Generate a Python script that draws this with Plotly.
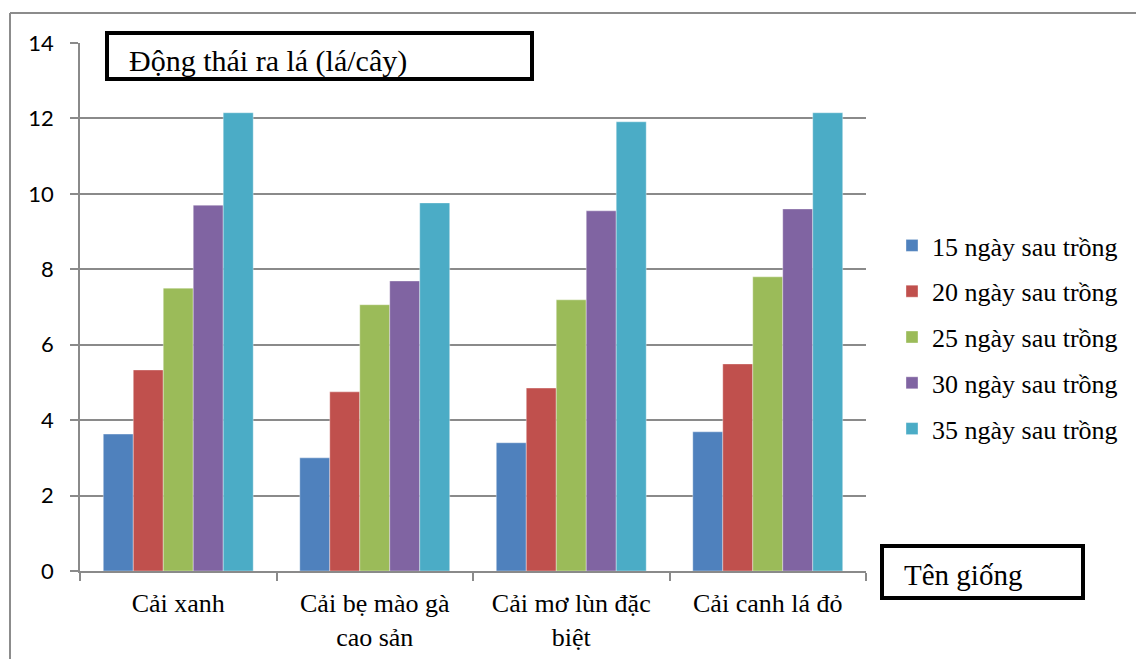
import plotly.graph_objects as go

# Data: leaf count (leaves/plant) per variety at each sampling date
categories = ["Cải xanh", "Cải bẹ mào gà<br>cao sản", "Cải mơ lùn đặc<br>biệt", "Cải canh lá đỏ"]
series_names = ["15 ngày sau trồng", "20 ngày sau trồng", "25 ngày sau trồng",
                "30 ngày sau trồng", "35 ngày sau trồng"]
d15 = [3.63, 3.00, 3.40, 3.69]
d20 = [5.33, 4.75, 4.85, 5.49]
d25 = [7.50, 7.06, 7.19, 7.80]
d30 = [9.70, 7.69, 9.55, 9.60]
d35 = [12.15, 9.76, 11.91, 12.15]
series_values = [d15, d20, d25, d30, d35]
y_ticks = [0, 2, 4, 6, 8, 10, 12, 14]

colors = ["#4F81BD", "#C0504D", "#9BBB59", "#8064A2", "#4BACC6"]

W, H = 1136, 659
L, R, T, B = 80, 866, 43, 571  # plot area in pixels


def px_x(x):
    return (x - L) / (R - L)


def px_y(y):
    return (B - y) / (B - T)


fig = go.Figure()
for name, vals, col in zip(series_names, series_values, colors):
    fig.add_trace(go.Bar(
        x=categories, y=vals, name=name, legendgroup=name,
        marker=dict(color=col, line=dict(color="rgba(255,255,255,0.6)", width=0.6)),
    ))

grid = "#8a8a8a"
serif = "Liberation Serif"

fig.update_layout(
    width=W, height=H,
    margin=dict(l=L, r=W - R, t=T, b=H - B, pad=0, autoexpand=False),
    paper_bgcolor="white", plot_bgcolor="white",
    barmode="group", bargap=0.237, bargroupgap=0,
    showlegend=True,
    legend=dict(
        x=px_x(892), y=px_y(222), xanchor="left", yanchor="top",
        font=dict(family=serif, size=26, color="#000"),
        tracegroupgap=9, bgcolor="rgba(0,0,0,0)",
    ),
    xaxis=dict(
        type="category", automargin=False, showline=True, linecolor=grid, linewidth=1.5,
        ticks="outside", tickson="boundaries", ticklen=8, tickcolor=grid, tickwidth=1.5,
        showgrid=False, tickfont=dict(family=serif, size=26, color="#000"),
        ticklabelstandoff=8,
    ),
    yaxis=dict(
        range=[0, 14], tickvals=y_ticks, automargin=False, showline=True,
        linecolor=grid, linewidth=1.5,
        ticks="outside", ticklen=8, tickcolor=grid, tickwidth=1.5,
        showgrid=True, gridcolor=grid, gridwidth=1.5, zeroline=False,
        tickfont=dict(family="Lato", size=22, color="#000"), ticklabelstandoff=12,
    ),
)

# outer chart frame (top and left edges visible)
fig.add_shape(type="line", xref="paper", yref="paper",
              x0=px_x(10), x1=px_x(1140), y0=px_y(13), y1=px_y(13),
              line=dict(color="#8c8c8c", width=2))
fig.add_shape(type="line", xref="paper", yref="paper",
              x0=px_x(10), x1=px_x(10), y0=px_y(13), y1=px_y(665),
              line=dict(color="#8c8c8c", width=2))

# y-axis title box
fig.add_shape(type="rect", xref="paper", yref="paper",
              x0=px_x(107), x1=px_x(532), y0=px_y(33), y1=px_y(79),
              line=dict(color="black", width=4), fillcolor="white")
fig.add_annotation(xref="paper", yref="paper", x=px_x(127), y=px_y(61),
                   xanchor="left", yanchor="middle", showarrow=False,
                   text="Động thái ra lá (lá/cây)",
                   font=dict(family=serif, size=30, color="#000"))

# x-axis title box
fig.add_shape(type="rect", xref="paper", yref="paper",
              x0=px_x(882), x1=px_x(1083), y0=px_y(546), y1=px_y(598),
              line=dict(color="black", width=4), fillcolor="white")
fig.add_annotation(xref="paper", yref="paper", x=px_x(902), y=px_y(575),
                   xanchor="left", yanchor="middle", showarrow=False,
                   text="Tên giống",
                   font=dict(family=serif, size=29, color="#000"))

fig.write_html("out.html")
